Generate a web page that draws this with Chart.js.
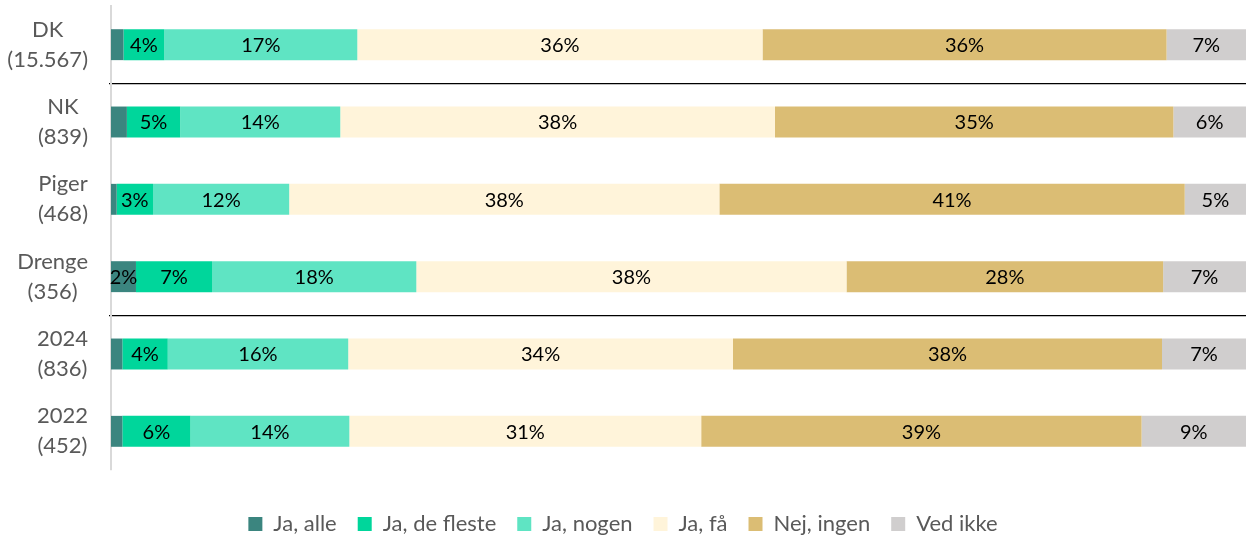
<!DOCTYPE html>
<html>
<head>
<meta charset="utf-8">
<script src="https://cdn.jsdelivr.net/npm/chart.js@4"></script>
<style>
  html, body { margin: 0; padding: 0; background: #fff; }
  #wrap { width: 1250px; height: 538px; }
</style>
</head>
<body>
<div id="wrap"><canvas id="chart"></canvas></div>
<script>
const categories = [
  ["DK", "(15.567)"],
  ["NK", "(839)"],
  ["Piger", "(468)"],
  ["Drenge", "(356)"],
  ["2024", "(836)"],
  ["2022", "(452)"],
];
const seriesNames = ["Ja, alle", "Ja, de fleste", "Ja, nogen", "Ja, få", "Nej, ingen", "Ved ikke"];
const jaAlle = [1.1, 1.4, 0.5, 2.2, 1.0, 1.0];
const jaFleste = [3.6, 4.7, 3.2, 6.7, 4.0, 6.0];
const jaNogen = [17.0, 14.1, 12.0, 18.0, 15.9, 14.0];
const jaFaa = [35.7, 38.3, 37.9, 37.9, 33.9, 31.0];
const nejIngen = [35.6, 35.1, 41.0, 27.9, 37.8, 38.8];
const vedIkke = [7.0, 6.4, 5.4, 7.3, 7.4, 9.2];
// grid lines (between categories) drawn black
const groupBreaks = [1, 4];

const colors = ["#3b857f", "#00d69b", "#5fe4c3", "#fff4da", "#dbbd74", "#d0cece"];
const seriesValues = [jaAlle, jaFleste, jaNogen, jaFaa, nejIngen, vedIkke];
const FONT = "Lato";

// two-line category labels, each block right aligned, lines centred
const categoryLabels = {
  id: "categoryLabels",
  afterDraw(chart) {
    const scale = chart.scales.y;
    const ctx = chart.ctx;
    ctx.save();
    ctx.font = "22px " + FONT;
    ctx.fillStyle = "#595959";
    ctx.textAlign = "center";
    ctx.textBaseline = "middle";
    const right = scale.right - 23;
    const lineH = 30;
    scale.ticks.forEach((t, i) => {
      const lines = categories[i];
      const w = Math.max(...lines.map((l) => ctx.measureText(l).width));
      const cx = right - w / 2;
      const y = scale.getPixelForTick(i);
      lines.forEach((l, j) => {
        ctx.fillText(l, cx, y + (j - (lines.length - 1) / 2) * lineH);
      });
    });
    ctx.restore();
  },
};

// percentage labels in the middle of each segment
const barValues = {
  id: "barValues",
  afterDatasetsDraw(chart) {
    const ctx = chart.ctx;
    ctx.save();
    ctx.font = "20px " + FONT;
    ctx.fillStyle = "#000";
    ctx.textAlign = "center";
    ctx.textBaseline = "middle";
    chart.data.datasets.forEach((ds, di) => {
      chart.getDatasetMeta(di).data.forEach((bar, i) => {
        const v = ds.data[i];
        if (v < 1.5) return;
        const { x, y, base } = bar.getProps(["x", "y", "base"], true);
        ctx.fillText(Math.round(v) + "%", (x + base) / 2, y + 1);
      });
    });
    ctx.restore();
  },
};

new Chart(document.getElementById("chart"), {
  type: "bar",
  data: {
    labels: categories,
    datasets: seriesNames.map((name, i) => ({
      label: name,
      data: seriesValues[i],
      backgroundColor: colors[i],
      borderWidth: 0,
      categoryPercentage: 0.8,
      barPercentage: 0.5,
    })),
  },
  options: {
    indexAxis: "y",
    responsive: true,
    maintainAspectRatio: false,
    animation: false,
    layout: { padding: { top: 6, right: 4, bottom: -7, left: 0 } },
    scales: {
      x: {
        stacked: true,
        min: 0,
        max: 100,
        grid: { display: false },
        border: { display: false },
        ticks: { display: false },
        afterFit(scale) {
          scale.height = 22;
        },
      },
      y: {
        stacked: true,
        ticks: { display: false },
        border: { color: "#d9d9d9", width: 2 },
        grid: {
          offset: true,
          tickLength: 2,
          lineWidth: 1.2,
          color: (c) => (groupBreaks.includes(c.index) ? "#000" : "transparent"),
        },
        afterFit(scale) {
          scale.width = 111;
        },
      },
    },
    plugins: {
      legend: {
        position: "bottom",
        labels: {
          boxWidth: 14,
          boxHeight: 14,
          padding: 21,
          color: "#595959",
          font: { family: FONT, size: 22 },
        },
      },
      tooltip: { enabled: true },
    },
  },
  plugins: [categoryLabels, barValues],
});
</script>
</body>
</html>
